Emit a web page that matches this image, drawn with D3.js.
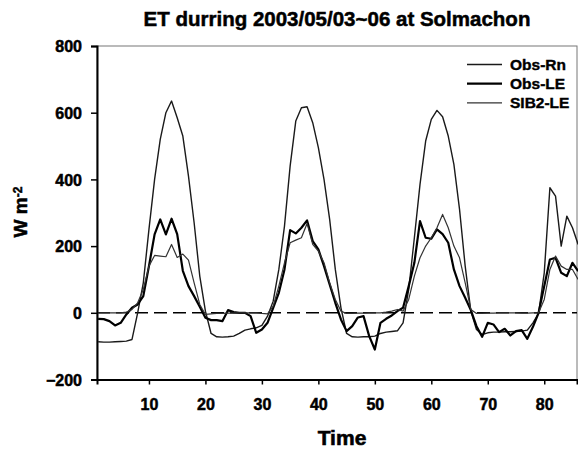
<!DOCTYPE html>
<html>
<head>
<meta charset="utf-8">
<script src="https://cdn.jsdelivr.net/npm/d3@7"></script>
<style>
  body { margin: 0; background: #fff; }
  text { font-family: "Liberation Sans", Arial, sans-serif; font-weight: bold; }
</style>
</head>
<body>
<svg id="chart"></svg>
<script>
// hourly values, time 1..86
const time = d3.range(1, 87);
const obsRn = [-87, -88, -88, -87, -86, -85, -80, 0, 90, 250, 400, 520, 600, 635, 585, 530, 410, 270, 110, 5,
  -62, -72, -73, -72, -70, -62, -52, -48, -45, -38, -10, 35, 130, 260, 440, 575, 615, 618, 570, 495,
  400, 280, 130, 15, -62, -72, -73, -72, -72, -70, -62, -58, -56, -54, -30, 70, 225, 385, 515, 580,
  607, 588, 530, 445, 310, 140, 5, -50, -65, -60, -58, -58, -57, -57, -56, -55, -52, -30, -2, 120,
  375, 350, 200, 290, 255, 205];
const obsLE = [-18, -19, -25, -38, -30, -5, 15, 25, 50, 140, 235, 280, 235, 282, 236, 126, 80, 50, 18, -15,
  -22, -22, -25, 8, 2, 0, 0, -10, -60, -50, -30, 15, 60, 130, 248, 238, 255, 277, 215, 190,
  140, 85, 30, -20, -55, -40, -14, -10, -70, -110, -30, -18, -8, 5, 15, 80, 150, 275, 225, 222,
  250, 236, 210, 130, 80, 45, 8, -40, -72, -30, -35, -58, -48, -68, -55, -52, -78, -42, 0, 80,
  160, 165, 120, 110, 150, 125];
const sib2LE = [0, 0, 0, 0, 0, 2, 10, 30, 70, 140, 172, 170, 168, 205, 166, 176, 158, 90, 25, -5,
  -3, -2, -2, -1, -1, 0, 0, 0, 0, -2, -3, 20, 80, 150, 210, 218, 225, 268, 205, 185,
  150, 90, 40, 5, -2, -2, -1, -1, 0, 0, 0, 2, 5, 10, 5, 40, 110, 165, 200, 225,
  255, 295, 255, 200, 165, 90, 10, -2, -2, -1, -1, 0, 0, 0, 0, -1, -1, 0, 0, 40,
  130, 170, 140, 130, 130, 100];
const seriesNames = ["Obs-Rn", "Obs-LE", "SIB2-LE"];
const xTicks = [10, 20, 30, 40, 50, 60, 70, 80];
const yTicks = [-200, 0, 200, 400, 600, 800];

const W = 578, H = 450;
const svg = d3.select("#chart").attr("width", W).attr("height", H);

const x = d3.scaleLinear().domain([0.8, 85.8]).range([97, 577]);
const y = d3.scaleLinear().domain([-200, 800]).range([379.5, 46]);

// frame
svg.append("rect")
  .attr("x", 97).attr("y", 46).attr("width", 480).attr("height", 333.5)
  .attr("fill", "none").attr("stroke", "#777").attr("stroke-width", 1);

const xAxis = svg.append("g")
  .attr("transform", `translate(0,${y(-200)})`)
  .call(d3.axisBottom(x).tickValues(xTicks).tickSize(5).tickPadding(14));
const yAxis = svg.append("g")
  .attr("transform", `translate(${x.range()[0]},0)`)
  .call(d3.axisLeft(y).tickValues(yTicks).tickSize(6).tickPadding(9));

[xAxis, yAxis].forEach(g => {
  g.select(".domain").attr("stroke", "#000").attr("stroke-width", 2);
  g.selectAll(".tick line").attr("stroke", "#000").attr("stroke-width", 1.5);
  g.selectAll(".tick text").attr("fill", "#000").attr("stroke", "#000").attr("stroke-width", 0.5)
    .style("font-size", "16px")
    .style("font-family", "'Liberation Sans', Arial, sans-serif").style("font-weight", "bold");
});
yAxis.selectAll(".tick text").attr("dy", "0.35em");

// zero line
svg.append("line")
  .attr("x1", x.range()[0]).attr("x2", x.range()[1])
  .attr("y1", y(0)).attr("y2", y(0))
  .attr("stroke", "#000").attr("stroke-width", 1.6).attr("stroke-dasharray", "13,6");

const line = d3.line().x((d, i) => x(time[i])).y(d => y(d));
const styles = [
  { data: obsRn, color: "#1a1a1a", width: 1.4 },
  { data: obsLE, color: "#000", width: 2.2 },
  { data: sib2LE, color: "#333", width: 1.2 }
];
styles.forEach(s => {
  svg.append("path").datum(s.data)
    .attr("d", line)
    .attr("fill", "none").attr("stroke", s.color).attr("stroke-width", s.width)
    .attr("stroke-linejoin", "round");
});

// legend
const leg = svg.append("g");
seriesNames.forEach((name, i) => {
  const ly = 64.5 + i * 19.2;
  leg.append("line").attr("x1", 467).attr("x2", 502).attr("y1", ly).attr("y2", ly)
    .attr("stroke", styles[i].color).attr("stroke-width", styles[i].width);
  leg.append("text").attr("x", 510).attr("y", ly).attr("dy", "0.35em")
    .attr("stroke", "#000").attr("stroke-width", 0.4)
    .style("font-size", "15.5px").text(name);
});

// titles
svg.append("text").attr("x", 337).attr("y", 26).attr("text-anchor", "middle")
  .attr("stroke", "#000").attr("stroke-width", 0.5)
  .style("font-size", "20.5px").text("ET durring 2003/05/03~06 at Solmachon");
svg.append("text").attr("x", 342).attr("y", 445).attr("text-anchor", "middle")
  .attr("stroke", "#000").attr("stroke-width", 0.6)
  .style("font-size", "21px").text("Time");
const yl = svg.append("text").attr("transform", "translate(27,212) rotate(-90)")
  .attr("text-anchor", "middle").attr("stroke", "#000").attr("stroke-width", 0.5)
  .style("font-size", "19px");
yl.append("tspan").text("W m");
yl.append("tspan").attr("dy", "-0.45em").style("font-size", "12px").text("-2");
</script>
</body>
</html>
